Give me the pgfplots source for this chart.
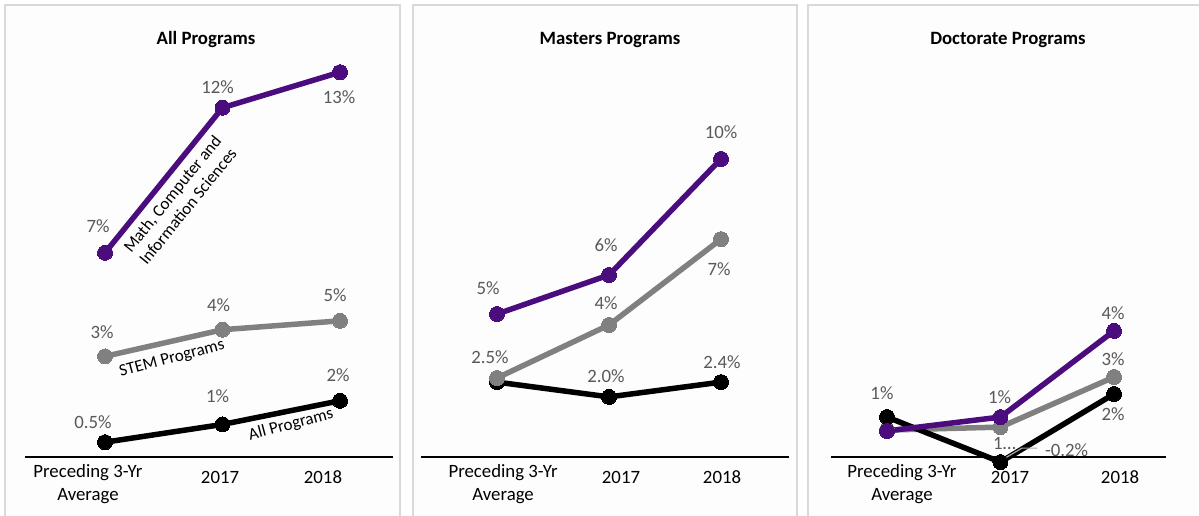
\documentclass[border=0pt]{standalone}
\usepackage{pgfplots}
\pgfplotsset{compat=1.18}
\usepackage{fontspec}
\setmainfont{Carlito}

\definecolor{mcis}{RGB}{75,12,125}
\definecolor{stem}{RGB}{128,128,128}
\definecolor{lbl}{RGB}{89,89,89}
\definecolor{framec}{RGB}{217,217,217}
\definecolor{panelbg}{RGB}{253,253,253}

\pgfplotsset{
  panel/.style={
    scale only axis,
    height=399.6pt,
    ymin=0, ymax=13.5,
    axis x line=bottom, axis y line=none,
    axis line style={black, line width=1.6pt, -},
    xticklabels={{Preceding 3-Yr\\Average},{\rule{0pt}{19pt}2017},{\rule{0pt}{19pt}2018}},
    xticklabel style={align=center, font=\fontsize{18.8}{23}\selectfont, anchor=north, yshift=-2pt},
    xtick style={draw=none},
    clip=false,
    every axis plot/.append style={line width=5.5pt, mark=*, mark size=7.5pt, mark options={line width=0pt}},
    point meta=explicit symbolic,
    nodes near coords,
    visualization depends on={\thisrow{dx} \as \lx},
    visualization depends on={\thisrow{dy} \as \ly},
    every node near coord/.append style={anchor=center, xshift=\lx pt, yshift=\ly pt,
      font=\fontsize{18.8}{22}\selectfont, text=lbl, inner sep=0pt},
  }
}

\begin{document}
\begin{tikzpicture}
\useasboundingbox (0,0) rectangle (1199pt,516pt);
% panel frames
\draw[framec, line width=1.5pt, fill=panelbg] (5pt,-10pt) rectangle (400pt,511pt);
\draw[framec, line width=1.5pt, fill=panelbg] (413pt,-10pt) rectangle (797pt,511pt);
\draw[framec, line width=1.5pt, fill=panelbg] (808pt,-10pt) rectangle (1215pt,511pt);

\node[font=\fontsize{18.8}{22}\selectfont\bfseries] at (206pt,476pt) {All Programs};
\node[font=\fontsize{18.8}{22}\selectfont\bfseries] at (610pt,476pt) {Masters Programs};
\node[font=\fontsize{18.8}{22}\selectfont\bfseries] at (1008pt,476pt) {Doctorate Programs};

% All programs
\begin{axis}[panel, at={(25pt,59pt)}, anchor=south west, width=368pt, xmin=-0.681, xmax=2.451,
  xtick={-0.145,0.979,1.855}]
\addplot[black] table[row sep=\\, meta=l] {
x y l dx dy\\
0 0.5 0.5\% -12 20\\
1 1.1 1\% -5 28\\
2 1.9 2\% -2 26\\
};
\addplot[stem] table[row sep=\\, meta=l] {
x y l dx dy\\
0 3.4 3\% -3 24\\
1 4.3 4\% -4 25\\
2 4.6 5\% -5 26\\
};
\addplot[mcis] table[row sep=\\, meta=l] {
x y l dx dy\\
0 6.9 7\% -7 27\\
1 11.8 12\% -5 21\\
2 13.0 13\% -1 -25\\
};
\end{axis}

% Masters programs
\begin{axis}[panel, at={(421pt,59pt)}, anchor=south west, width=368pt, xmin=-0.679, xmax=2.607,
  xtick={0.054,1.107,2.009}]
\addplot[black] table[row sep=\\, meta=l] {
x y l dx dy\\
0 2.53 {} 0 0\\
1 2.03 2.0\% -3 21\\
2 2.53 2.4\% 1 20\\
};
\addplot[stem] table[row sep=\\, meta=l] {
x y l dx dy\\
0 2.67 2.5\% -7 21\\
1 4.46 4\% -3 22\\
2 7.36 7\% -2 -30\\
};
\addplot[mcis] table[row sep=\\, meta=l] {
x y l dx dy\\
0 4.83 5\% -9 26\\
1 6.15 6\% -3 30\\
2 10.07 10\% 0 27\\
};
\end{axis}

% Doctorate programs
\begin{axis}[panel, at={(831pt,59pt)}, anchor=south west, width=335pt, xmin=-0.493, xmax=2.458,
  xtick={0.132,1.084,2.053}]
\addplot[stem] table[row sep=\\, meta=l] {
x y l dx dy\\
0 0.91 {} 0 0\\
1 1.01 1… 4 -16\\
2 2.70 3\% -1 18\\
};
\addplot[black] table[row sep=\\, meta=l] {
x y l dx dy\\
0 1.35 1\% -5 24\\
1 -0.17 -0.2\% 66 12\\
2 2.13 2\% -1 -20\\
};
\addplot[mcis] table[row sep=\\, meta=l] {
x y l dx dy\\
0 0.88 {} 0 0\\
1 1.35 1\% -1 20\\
2 4.26 4\% -1 18\\
};
\draw[stem!70, line width=1.2pt] (axis cs:1.013,-0.10) -- (axis cs:1.189,0.30) -- (axis cs:1.322,0.30);
\end{axis}

% series names along the lines
\node[rotate=51, align=center, font=\fontsize{17}{20}\selectfont] at (180pt,316pt) {Math, Computer and\\Information Sciences};
\node[rotate=15, font=\fontsize{17}{20}\selectfont] at (172pt,157pt) {STEM Programs};
\node[rotate=15, font=\fontsize{17}{20}\selectfont] at (291pt,91pt) {All Programs};
\end{tikzpicture}
\end{document}
